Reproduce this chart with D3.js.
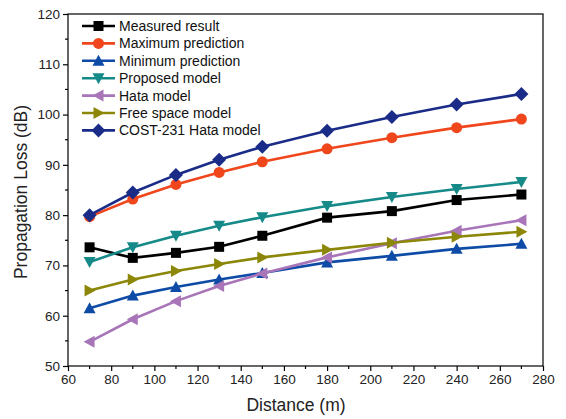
<!DOCTYPE html>
<html><head><meta charset="utf-8">
<script src="https://cdn.jsdelivr.net/npm/d3@7"></script>
<style>body{margin:0;background:#fff}svg{display:block}text{font-family:"Liberation Sans",Arial,sans-serif}</style>
</head><body>
<svg id="c" width="566" height="419"></svg>
<script>
const distances = [70, 90, 110, 130, 150, 180, 210, 240, 270];
const measured = [73.6, 71.5, 72.5, 73.7, 75.9, 79.5, 80.8, 83.0, 84.1];
const maxPred = [79.7, 83.2, 86.1, 88.5, 90.6, 93.2, 95.4, 97.4, 99.1];
const minPred = [61.5, 64.0, 65.7, 67.2, 68.5, 70.6, 71.9, 73.3, 74.3];
const proposed = [70.7, 73.6, 75.9, 77.9, 79.6, 81.8, 83.6, 85.2, 86.6];
const hata = [54.8, 59.3, 62.9, 65.9, 68.4, 71.6, 74.4, 76.9, 79.0];
const freeSpace = [65.0, 67.2, 68.9, 70.3, 71.6, 73.1, 74.5, 75.7, 76.7];
const cost231 = [80.0, 84.5, 88.0, 91.0, 93.6, 96.8, 99.5, 102.0, 104.1];
const seriesNames = ["Measured result","Maximum prediction","Minimum prediction","Proposed model","Hata model","Free space model","COST-231 Hata model"];
const xTicks = [60,80,100,120,140,160,180,200,220,240,260,280];
const yTicks = [50,60,70,80,90,100,110,120];

const series = [
  {name: seriesNames[0], values: measured, color: "#000000", sym: "square"},
  {name: seriesNames[1], values: maxPred, color: "#f0461c", sym: "circle"},
  {name: seriesNames[2], values: minPred, color: "#0e4ba6", sym: "up"},
  {name: seriesNames[3], values: proposed, color: "#168a88", sym: "down"},
  {name: seriesNames[4], values: hata, color: "#a775b8", sym: "left"},
  {name: seriesNames[5], values: freeSpace, color: "#8c8708", sym: "right"},
  {name: seriesNames[6], values: cost231, color: "#1a2c88", sym: "diamond"}
];

const svg = d3.select("#c");
const L = 68, R = 543, T = 14, B = 366;
const x = d3.scaleLinear().domain([60, 280]).range([L, R]);
const y = d3.scaleLinear().domain([50, 120]).range([B, T]);

function marker(g, sym, cx, cy, color) {
  let el;
  if (sym === "square") el = g.append("rect").attr("x", cx - 5).attr("y", cy - 5).attr("width", 10).attr("height", 10);
  else if (sym === "circle") el = g.append("circle").attr("cx", cx).attr("cy", cy).attr("r", 5.5);
  else {
    let pts;
    if (sym === "up") pts = [[0,-6],[6,5],[-6,5]];
    else if (sym === "down") pts = [[0,6],[6,-5],[-6,-5]];
    else if (sym === "left") pts = [[-6,0],[5,-6],[5,6]];
    else if (sym === "right") pts = [[6,0],[-5,-6],[-5,6]];
    else pts = [[0,-7],[7,0],[0,7],[-7,0]];
    el = g.append("polygon").attr("points", pts.map(p => [cx + p[0], cy + p[1]].join(",")).join(" "));
  }
  el.attr("fill", color);
}

// frame
svg.append("rect").attr("x", L).attr("y", T).attr("width", R - L).attr("height", B - T)
  .attr("fill", "none").attr("stroke", "#000").attr("stroke-width", 1.2);

// x axis
const xAxis = d3.axisBottom(x).tickValues(xTicks).tickSize(5).tickPadding(3).tickFormat(d3.format("d"));
const gx = svg.append("g").attr("transform", `translate(0,${B})`).call(xAxis);
gx.select(".domain").remove();
gx.selectAll("text").attr("font-size", 13.5).attr("fill", "#222");
gx.selectAll("line").attr("stroke-width", 1.2);
const xMinor = d3.range(70, 280, 20);
svg.append("g").selectAll("line").data(xMinor).join("line")
  .attr("x1", d => x(d)).attr("x2", d => x(d)).attr("y1", B).attr("y2", B + 3)
  .attr("stroke", "#000").attr("stroke-width", 1.2);

// y axis
const yAxis = d3.axisLeft(y).tickValues(yTicks).tickSize(5).tickPadding(3).tickFormat(d3.format("d"));
const gy = svg.append("g").attr("transform", `translate(${L},0)`).call(yAxis);
gy.select(".domain").remove();
gy.selectAll("text").attr("font-size", 13.5).attr("fill", "#222");
gy.selectAll("line").attr("stroke-width", 1.2);
const yMinor = d3.range(55, 120, 10);
svg.append("g").selectAll("line").data(yMinor).join("line")
  .attr("y1", d => y(d)).attr("y2", d => y(d)).attr("x1", L).attr("x2", L - 3)
  .attr("stroke", "#000").attr("stroke-width", 1.2);

// titles
svg.append("text").attr("x", 296).attr("y", 411).attr("text-anchor", "middle")
  .attr("font-size", 17.5).attr("fill", "#222").text("Distance (m)");
svg.append("text").attr("transform", `translate(27,192) rotate(-90)`).attr("text-anchor", "middle")
  .attr("font-size", 17.5).attr("fill", "#222").text("Propagation Loss (dB)");

// lines & markers
const line = d3.line().x((d, i) => x(distances[i])).y(d => y(d));
series.forEach(s => {
  const g = svg.append("g");
  g.append("path").datum(s.values).attr("d", line).attr("fill", "none")
    .attr("stroke", s.color).attr("stroke-width", 2.6);
  s.values.forEach((v, i) => marker(g, s.sym, x(distances[i]), y(v), s.color));
});

// legend
const lg = svg.append("g");
series.forEach((s, i) => {
  const ly = 26 + i * 17.4;
  lg.append("line").attr("x1", 82).attr("x2", 115).attr("y1", ly).attr("y2", ly)
    .attr("stroke", s.color).attr("stroke-width", 2.6);
  marker(lg, s.sym, 98.5, ly, s.color);
  lg.append("text").attr("x", 119).attr("y", ly + 5).attr("font-size", 14).attr("fill", "#111").text(s.name);
});
</script>
</body></html>
